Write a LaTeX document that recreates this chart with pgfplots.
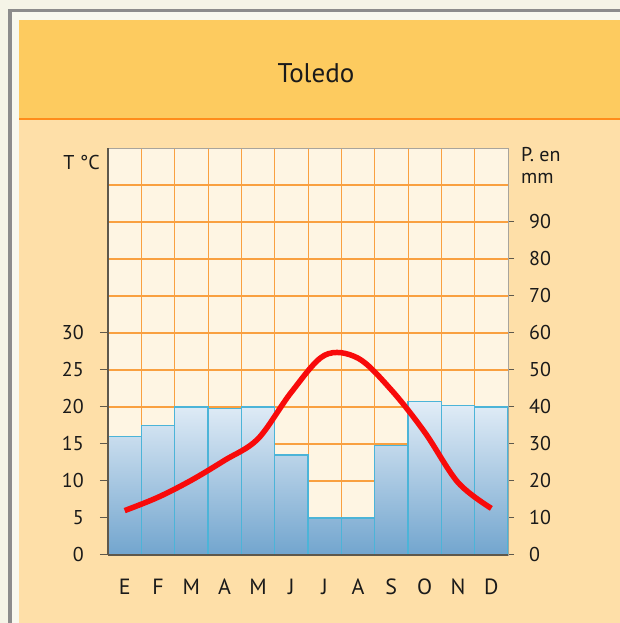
\documentclass[border=0pt]{standalone}
\usepackage{pgfplots}
\pgfplotsset{compat=1.18}
\usepackage{fontspec}
\setmainfont{PT Sans}
\definecolor{outerbg}{HTML}{F5F4E7}
\definecolor{bordergrey}{HTML}{8C8C8C}
\definecolor{innerstrip}{HTML}{F8F8EE}
\definecolor{panel}{HTML}{FEDFA8}
\definecolor{header}{HTML}{FDCB5F}
\definecolor{orangeline}{HTML}{FF8C1A}
\definecolor{plotbg}{HTML}{FEF5E3}
\definecolor{gridor}{HTML}{F9A040}
\definecolor{bartop}{HTML}{E2EDF7}
\definecolor{barbot}{HTML}{72A5CE}
\definecolor{barline}{HTML}{4CB4D8}
\definecolor{darkaxis}{HTML}{5E584C}
\definecolor{lightaxis}{HTML}{A8A49C}
\definecolor{redline}{HTML}{F80A0A}
\definecolor{txt}{HTML}{1A1A1A}

\pgfplotstableread{
x P
0.5 32
1.5 35
2.5 40
3.5 39.5
4.5 40
5.5 27
6.5 10
7.5 10
8.5 29.5
9.5 41.5
10.5 40.5
11.5 40
}\precip

\pgfplotstableread{
x T
0.5 6.0
1.5 7.8
2.5 10.1
3.5 12.8
4.5 15.7
5.5 22.0
6.5 27.0
7.5 26.6
8.5 22.3
9.5 16.6
10.5 9.8
11.5 6.3
}\temp

\begin{document}
\begin{tikzpicture}[x=1pt,y=1pt]
\useasboundingbox (0,0) rectangle (620,623);
\fill[outerbg] (0,0) rectangle (620,623);
\fill[bordergrey] (8,0) rectangle (620,614);
\fill[innerstrip] (11.5,0) rectangle (620,610.5);
\fill[panel] (19,0) rectangle (620,603);
\fill[header] (19,505) rectangle (620,603);
\draw[orangeline, line width=2.2pt] (19,504) -- (620,504);
\node[font=\fontsize{27}{30}\selectfont, text=txt, anchor=base, inner sep=0pt] at (316,540) {Toledo};
\node[font=\fontsize{20}{21}\selectfont, text=txt, anchor=east, inner sep=0pt] at (100,460) {T °C};
\node[font=\fontsize{20}{21}\selectfont, text=txt, anchor=west, inner sep=0pt] at (521,468) {P. en};
\node[font=\fontsize{20}{21}\selectfont, text=txt, anchor=west, inner sep=0pt] at (521,445) {mm};

\begin{axis}[
  at={(108pt,68pt)}, anchor=south west, scale only axis,
  width=400pt, height=407pt,
  xmin=0, xmax=12, ymin=0, ymax=110,
  axis background/.style={fill=plotbg},
  axis line style={draw=lightaxis, line width=0.8pt},
  /pgf/number format/assume math mode=true,
  xtick={0.5,1.5,...,11.5},
  xticklabels={E,F,M,A,M,J,J,A,S,O,N,D},
  xticklabel style={font=\fontsize{22}{23}\selectfont, text=txt, anchor=base, yshift=-33pt},
  major x tick style={draw=none},
  minor xtick={1,...,11},
  xminorgrids=true,
  minor x tick style={draw=none},
  minor grid style={draw=gridor, line width=1pt},
  ytick={0,10,...,90},
  ytick pos=right, yticklabel pos=right,
  extra y ticks={100}, extra y tick labels={},
  extra y tick style={major tick length=0pt, grid=major},
  ymajorgrids=true,
  major grid style={draw=gridor, line width=1.6pt},
  tick align=outside,
  major tick length=6pt,
  y tick style={draw=darkaxis, line width=1pt},
  yticklabel style={font=\fontsize{20}{21}\selectfont, text=txt, anchor=west, inner sep=0pt, xshift=15pt},
]
\addplot[ybar, bar width=1, draw=barline, line width=1.2pt, top color=bartop, bottom color=barbot] table[x=x, y=P] {\precip};
\end{axis}

\begin{axis}[
  at={(108pt,68pt)}, anchor=south west, scale only axis,
  width=400pt, height=407pt,
  xmin=0, xmax=12, ymin=0, ymax=55,
  axis y line*=left, axis x line*=bottom,
  axis line style={draw=darkaxis, line width=2pt},
  /pgf/number format/assume math mode=true,
  xtick=\empty,
  ytick={0,5,...,30},
  tick align=outside,
  major tick length=8pt,
  y tick style={draw=darkaxis, line width=1pt},
  yticklabel style={font=\fontsize{20}{21}\selectfont, text=txt, anchor=east, inner sep=0pt, xshift=-16pt},
]
\addplot[redline, line width=5.5pt, smooth, tension=0.55] table[x=x, y=T] {\temp};
\end{axis}
\end{tikzpicture}
\end{document}
